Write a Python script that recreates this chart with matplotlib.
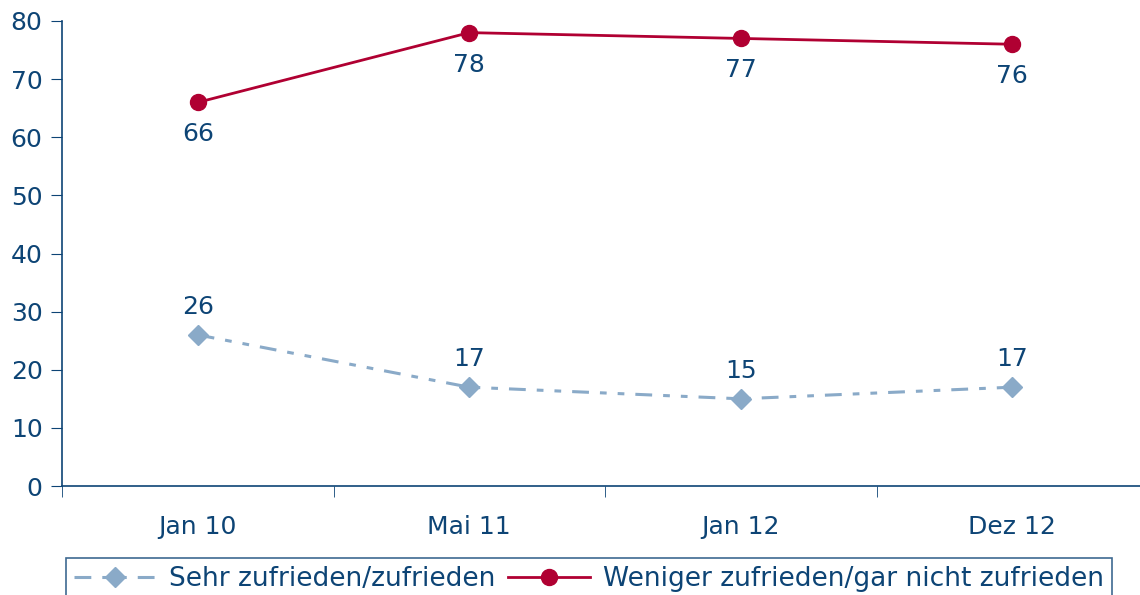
import matplotlib.pyplot as plt
import numpy as np

plt.rcParams['font.family'] = ['DejaVu Sans']

cats = ['Jan 10', 'Mai 11', 'Jan 12', 'Dez 12']
sehr = [26, 17, 15, 17]
weniger = [66, 78, 77, 76]
lab_sehr = 'Sehr zufrieden/zufrieden'
lab_weniger = 'Weniger zufrieden/gar nicht zufrieden'

navy = '#0d4475'
red = '#b00032'
light = '#8aaac8'

fig = plt.figure(figsize=(11.4, 5.95), dpi=100)
ax = fig.add_axes([62/1140, 1-486/595, 1086/1140, 465/595])

x = np.arange(len(cats))
l1, = ax.plot(x, sehr, color=light, lw=2.2, marker='D', ms=10,
              dashes=(5.5, 3.6, 2.2, 3.6, 2.2, 3.6), label=lab_sehr)
l2, = ax.plot(x, weniger, color=red, lw=2, marker='o', ms=11.5, label=lab_weniger)

for xi, v in zip(x, sehr):
    ax.annotate(str(v), (xi, v), xytext=(0, 20), textcoords='offset points',
                ha='center', va='center', color=navy, fontsize=18)
for xi, v in zip(x, weniger):
    ax.annotate(str(v), (xi, v), xytext=(0, -23), textcoords='offset points',
                ha='center', va='center', color=navy, fontsize=18)

ax.set_xlim(-0.5, 3.5)
ax.set_ylim(0, 80)
ax.set_yticks(range(0, 81, 10))
ax.set_xticks(x)
ax.set_xticklabels(cats)
ax.set_xticks(np.arange(-0.5, 4, 1), minor=True)
ax.tick_params(axis='x', which='major', length=0, pad=21, labelsize=18, labelcolor=navy)
ax.tick_params(axis='x', which='minor', length=8, color=navy, direction='out')
ax.tick_params(axis='y', length=8, color=navy, direction='out', labelsize=18,
               labelcolor=navy, pad=6)
for s in ['top', 'right']:
    ax.spines[s].set_visible(False)
for s in ['left', 'bottom']:
    ax.spines[s].set_color(navy)
    ax.spines[s].set_linewidth(1.2)

leg = fig.legend(handles=[l1, l2], ncol=2, loc='upper left',
                 bbox_to_anchor=(66/1140, 1-558/595),
                 frameon=True, fancybox=False, fontsize=19,
                 handlelength=3.1, handletextpad=0.5, columnspacing=0.5,
                 borderpad=0.3, borderaxespad=0)
leg.get_frame().set_edgecolor(navy)
leg.get_frame().set_linewidth(1.2)
for t in leg.get_texts():
    t.set_color(navy)

fig.savefig('out.png', dpi=100)
